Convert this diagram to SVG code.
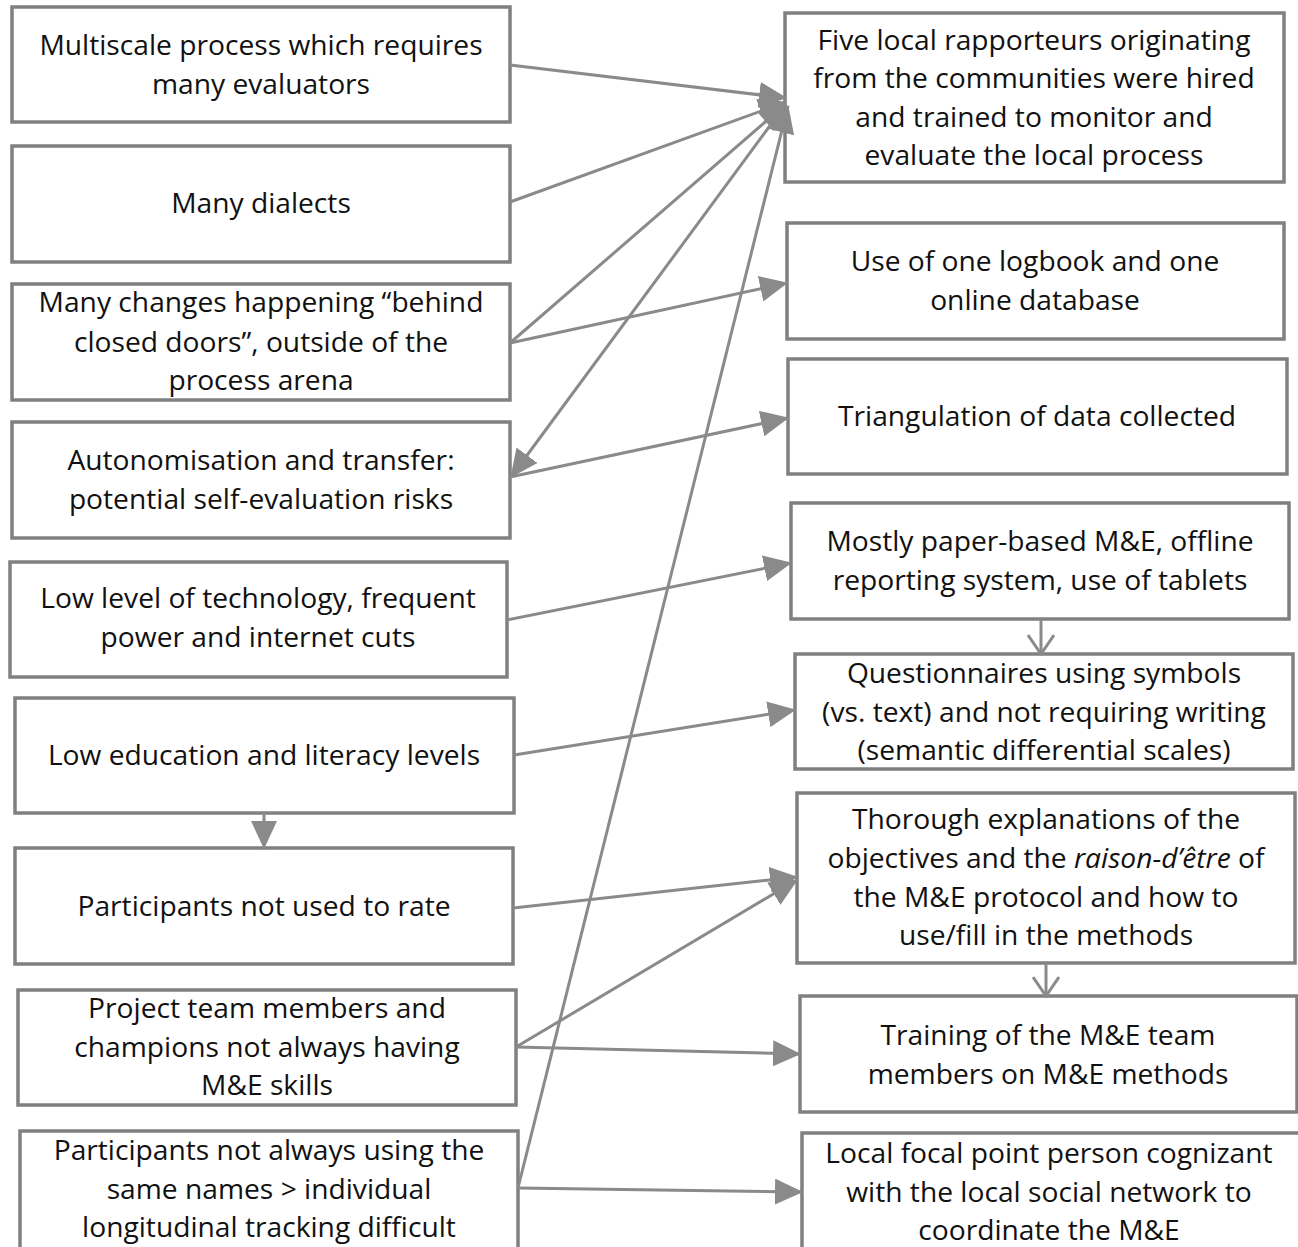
<svg xmlns="http://www.w3.org/2000/svg" width="1298" height="1247" viewBox="0 0 1298 1247">
<style>
.box{fill:#fff;stroke:#808080;stroke-width:3.5}
.t{font-family:"Open Sans","Liberation Sans",sans-serif;font-size:28.2px;fill:#111;text-anchor:middle}
.c{stroke:#8a8a8a;stroke-width:3;fill:none}
</style>
<defs>
<marker id="ah" markerUnits="userSpaceOnUse" viewBox="0 0 28 26" refX="27" refY="13" markerWidth="28" markerHeight="26" orient="auto"><path d="M0,0 L28,13 L0,26 z" fill="#8a8a8a"/></marker>
<marker id="oa" markerUnits="userSpaceOnUse" viewBox="0 0 22 28" refX="20" refY="14" markerWidth="22" markerHeight="28" orient="auto"><path d="M1,1 L20,14 L1,27" fill="none" stroke="#8a8a8a" stroke-width="3"/></marker>
</defs>
<rect width="1298" height="1247" fill="#fff"/>
<g id="L1"><rect class="box" x="12" y="7" width="498" height="115"/><text class="t" x="261" y="55">Multiscale process which requires</text><text class="t" x="261" y="94">many evaluators</text></g>
<g id="L2"><rect class="box" x="12" y="146" width="498" height="116"/><text class="t" x="261" y="213">Many dialects</text></g>
<g id="L3"><rect class="box" x="12" y="284" width="498" height="116"/><text class="t" x="261" y="312">Many changes happening “behind</text><text class="t" x="261" y="352">closed doors”, outside of the</text><text class="t" x="261" y="390">process arena</text></g>
<g id="L4"><rect class="box" x="12" y="422" width="498" height="116"/><text class="t" x="261" y="470">Autonomisation and transfer:</text><text class="t" x="261" y="509">potential self-evaluation risks</text></g>
<g id="L5"><rect class="box" x="10" y="562" width="497" height="115"/><text class="t" x="258" y="608">Low level of technology, frequent</text><text class="t" x="258" y="647">power and internet cuts</text></g>
<g id="L6"><rect class="box" x="15" y="698" width="499" height="115"/><text class="t" x="264" y="765">Low education and literacy levels</text></g>
<g id="L7"><rect class="box" x="15" y="848" width="498" height="116"/><text class="t" x="264" y="916">Participants not used to rate</text></g>
<g id="L8"><rect class="box" x="18" y="990" width="498" height="115"/><text class="t" x="267" y="1018">Project team members and</text><text class="t" x="267" y="1057">champions not always having</text><text class="t" x="267" y="1095">M&amp;E skills</text></g>
<g id="L9"><rect class="box" x="20" y="1131" width="498" height="125"/><text class="t" x="269" y="1160">Participants not always using the</text><text class="t" x="269" y="1199">same names &gt; individual</text><text class="t" x="269" y="1237">longitudinal tracking difficult</text></g>
<g id="R1"><rect class="box" x="785" y="13" width="499" height="169"/><text class="t" x="1034" y="50">Five local rapporteurs originating</text><text class="t" x="1034" y="88">from the communities were hired</text><text class="t" x="1034" y="127">and trained to monitor and</text><text class="t" x="1034" y="165">evaluate the local process</text></g>
<g id="R2"><rect class="box" x="787" y="223" width="497" height="116"/><text class="t" x="1035" y="271">Use of one logbook and one</text><text class="t" x="1035" y="310">online database</text></g>
<g id="R3"><rect class="box" x="788" y="359" width="499" height="115"/><text class="t" x="1037" y="426">Triangulation of data collected</text></g>
<g id="R4"><rect class="box" x="791" y="503" width="498" height="116"/><text class="t" x="1040" y="551">Mostly paper-based M&amp;E, offline</text><text class="t" x="1040" y="590">reporting system, use of tablets</text></g>
<g id="R5"><rect class="box" x="795" y="654" width="498" height="115"/><text class="t" x="1044" y="683">Questionnaires using symbols</text><text class="t" x="1044" y="722">(vs. text) and not requiring writing</text><text class="t" x="1044" y="760">(semantic differential scales)</text></g>
<g id="R6"><rect class="box" x="797" y="793" width="498" height="170"/><text class="t" x="1046" y="829">Thorough explanations of the</text><text class="t" x="1046" y="868">objectives and the <tspan font-style="italic">raison-d’être</tspan> of</text><text class="t" x="1046" y="907">the M&amp;E protocol and how to</text><text class="t" x="1046" y="945">use/fill in the methods</text></g>
<g id="R7"><rect class="box" x="800" y="996" width="497" height="116"/><text class="t" x="1048" y="1045">Training of the M&amp;E team</text><text class="t" x="1048" y="1084">members on M&amp;E methods</text></g>
<g id="R8"><rect class="box" x="802" y="1133" width="500" height="125"/><text class="t" x="1049" y="1163">Local focal point person cognizant</text><text class="t" x="1049" y="1202">with the local social network to</text><text class="t" x="1049" y="1240">coordinate the M&amp;E</text></g>
<g id="connectors">
<line class="c" x1="510" y1="65" x2="786" y2="98" marker-end="url(#ah)"/>
<line class="c" x1="510" y1="202" x2="786" y2="102" marker-end="url(#ah)"/>
<line class="c" x1="510" y1="343" x2="786" y2="104" marker-end="url(#ah)"/>
<line class="c" x1="510" y1="343" x2="787" y2="283" marker-end="url(#ah)"/>
<line class="c" x1="786" y1="104" x2="511" y2="477" marker-end="url(#ah)"/>
<line class="c" x1="510" y1="477" x2="788" y2="418" marker-end="url(#ah)"/>
<line class="c" x1="507" y1="620" x2="791" y2="563" marker-end="url(#ah)"/>
<line class="c" x1="514" y1="755" x2="795" y2="710" marker-end="url(#ah)"/>
<line class="c" x1="264" y1="813" x2="264" y2="848" marker-end="url(#ah)"/>
<line class="c" x1="513" y1="908" x2="797" y2="877" marker-end="url(#ah)"/>
<line class="c" x1="516" y1="1047" x2="797" y2="880" marker-end="url(#ah)"/>
<line class="c" x1="516" y1="1047" x2="800" y2="1054" marker-end="url(#ah)"/>
<line class="c" x1="518" y1="1188" x2="788" y2="106" marker-end="url(#ah)"/>
<line class="c" x1="518" y1="1188" x2="802" y2="1192" marker-end="url(#ah)"/>
<line class="c" x1="1041" y1="619" x2="1041" y2="654" marker-end="url(#oa)"/>
<line class="c" x1="1046" y1="963" x2="1046" y2="996" marker-end="url(#oa)"/>
</g>
</svg>
